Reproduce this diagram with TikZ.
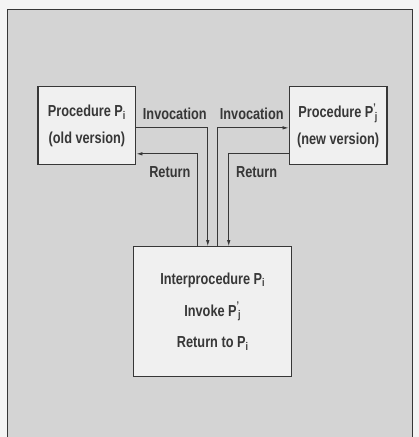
\documentclass[tikz,border=0pt]{standalone}
\usepackage{fontspec}
\setmainfont{Liberation Sans}[FakeStretch=0.8]
\usepackage{tikz}
\usetikzlibrary{arrows.meta,positioning,calc}
\definecolor{paper}{RGB}{244,244,244}
\definecolor{panel}{RGB}{212,212,212}
\definecolor{boxfill}{RGB}{240,240,240}
\definecolor{ink}{RGB}{55,55,55}
\newcommand{\Psub}[1]{P\textsubscript{#1}}
\newcommand{\Pprm}[1]{P\textsuperscript{’}\kern-1.5pt\textsubscript{#1}}

\begin{document}
\begin{tikzpicture}[
    x=1bp, y=1bp,
    proc/.style={rectangle, draw=ink, line width=1.2bp, fill=boxfill,
                 minimum width=98bp, minimum height=78bp, align=center,
                 inner sep=0pt, text=ink,
                 font=\fontsize{16}{27}\selectfont\bfseries},
    inter/.style={proc, minimum width=158bp, minimum height=130bp,
                  font=\fontsize{16}{32}\selectfont\bfseries},
    link/.style={draw=ink, line width=0.8bp, -{Latex[length=6bp,width=3.5bp]}},
    lbl/.style={font=\fontsize{16}{18}\selectfont\bfseries, text=ink, inner sep=0pt}
]
    % Page and grey panel
    \fill[paper] (0,0) rectangle (419,-437);
    \fill[panel] (8,-10) rectangle (413,-437);
    \draw[ink, line width=1bp] (8,-437) -- (8,-10) -- (413,-10) -- (413,-437);

    % Procedures
    \node[proc] (old) at (87,-126) {Procedure \Psub{i}\\(old version)};
    \node[proc] (new) at (338.5,-126) {Procedure \Pprm{j}\\(new version)};
    \node[inter] (ip) at (213,-312) {Interprocedure \Psub{i}\\Invoke \Pprm{j}\\Return to \Psub{i}};

    % Bends of the connectors
    \coordinate (invL) at (208,-128);
    \coordinate (retL) at (198,-154);
    \coordinate (invR) at (218,-128);
    \coordinate (retR) at (229,-154);

    % Connectors
    \draw[link] (old.east |- invL) -- (invL) -- (invL |- ip.north);
    \draw[link] (retL |- ip.north) -- (retL) -- (old.east |- retL);
    \draw[link] (invR |- ip.north) -- (invR) -- (new.west |- invR);
    \draw[link] (new.west |- retR) -- (retR) -- (retR |- ip.north);

    % Labels
    \node[lbl] (invLl) at (175,-114) {Invocation};
    \node[lbl] (invRl) at (252,-114) {Invocation};
    \node[lbl] (retLl) at (170,-172) {Return};
    \node[lbl] (retRl) at (257,-172) {Return};
\end{tikzpicture}
\end{document}
